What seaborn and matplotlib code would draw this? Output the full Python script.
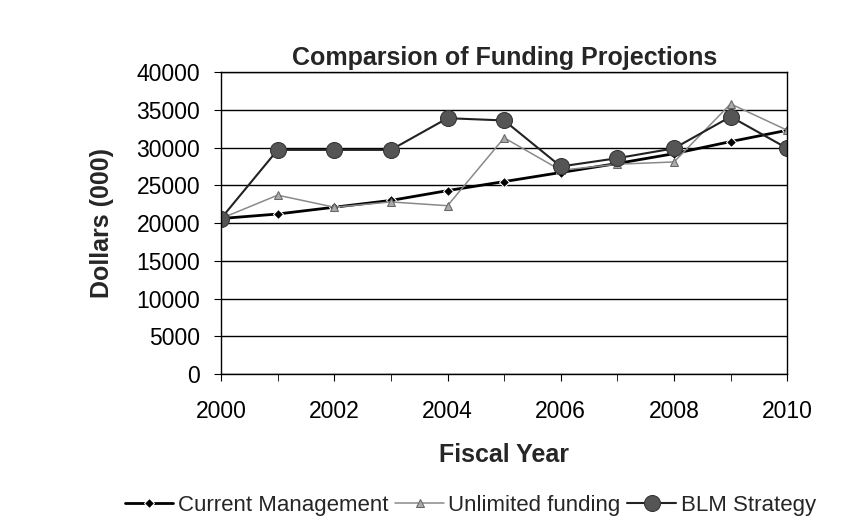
import pandas as pd
import numpy as np
import matplotlib.pyplot as plt
import seaborn as sns

# Datos
years = [2000, 2001, 2002, 2003, 2004, 2005, 2006, 2007, 2008, 2009, 2010]
current_mgmt = [20600, 21200, 22100, 23000, 24300, 25500, 26700, 27900, 29200, 30800, 32300]
unlimited = [20600, 23700, 22100, 22800, 22300, 31300, 27000, 27800, 28100, 35800, 32300]
blm = [20600, 29700, 29700, 29700, 33900, 33600, 27500, 28600, 29900, 34100, 29900]

sns.set_style('white')
plt.rcParams['font.family'] = ['Liberation Sans', 'DejaVu Sans']

fig, ax = plt.subplots(figsize=(8.42, 5.23), dpi=100)
fig.subplots_adjust(left=0.2625, right=0.935, top=0.862, bottom=0.285)

sns.lineplot(x=years, y=current_mgmt, ax=ax, color='black', linewidth=2,
             marker='D', markersize=5, label='Current Management')
sns.lineplot(x=years, y=unlimited, ax=ax, color='#8a8a8a', linewidth=1.1,
             marker='^', markersize=6, markerfacecolor='#aaaaaa',
             markeredgecolor='#666666', label='Unlimited funding')
sns.lineplot(x=years, y=blm, ax=ax, color='#222222', linewidth=1.5,
             marker='o', markersize=11.5, markerfacecolor='#555555',
             markeredgecolor='#333333', label='BLM Strategy')

ax.set_xlim(2000, 2010)
ax.set_ylim(0, 40000)
ax.set_xticks([2000, 2002, 2004, 2006, 2008, 2010])
ax.set_xticks(years, minor=True)
ax.set_yticks(np.arange(0, 40001, 5000))
ax.yaxis.grid(True, color='black', linewidth=1)
ax.set_axisbelow(True)
for s in ax.spines.values():
    s.set_color('black')
    s.set_linewidth(1)
ax.tick_params(axis='both', which='both', labelsize=16.5, colors='black',
               length=5, direction='out', bottom=True, left=True)
ax.tick_params(axis='y', pad=10)
ax.tick_params(axis='x', which='major', pad=14)

ax.set_title('Comparsion of Funding Projections', fontsize=18, fontweight='bold', pad=5)
ax.set_ylabel('Dollars (000)', fontsize=18, fontweight='bold', labelpad=16)
ax.set_xlabel('Fiscal Year', fontsize=18, fontweight='bold', labelpad=14)

ax.legend(loc='upper center', bbox_to_anchor=(0.44, -0.335), ncol=3, frameon=False,
          fontsize=16, handlelength=2.2, columnspacing=0.3, handletextpad=0.2)

plt.savefig('out.png', dpi=100)
plt.close()
